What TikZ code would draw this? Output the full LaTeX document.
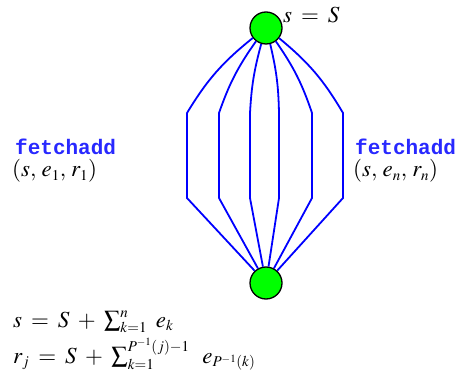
\documentclass[tikz,border=0pt]{standalone}
\usepackage{mathptmx}
\usepackage{fontspec}
\setmainfont{Liberation Serif}
\setmonofont{Liberation Mono}
\DeclareMathSizes{23}{23}{15}{11}
\definecolor{vgreen}{RGB}{0,255,0}
\definecolor{edgeblue}{RGB}{0,0,255}
\definecolor{ttblue}{RGB}{40,40,255}
\newcommand\myeq{\mskip3mu=\mskip3mu}
\newcommand\mypl{\mskip4mu+\mskip4mu}
\begin{document}
\begin{tikzpicture}[x=1pt,y=-1pt,
  vtx/.style={circle,draw=black,line width=1.3pt,fill=vgreen,minimum size=32pt,inner sep=0pt},
  edge/.style={draw=edgeblue,line width=1.8pt},
  mlbl/.style={inner sep=0pt,font=\fontsize{23}{26}\selectfont},
  tlbl/.style={inner sep=0pt,text=ttblue,font=\fontsize{21}{24}\selectfont\ttfamily\bfseries}]
\path[use as bounding box] (0,0) rectangle (457,379);
\node[vtx] (top) at (266,28) {};
\node[vtx] (bot) at (266,283) {};
\foreach \i/\x in {1/187,2/219,3/250,4/279,5/312,6/343} {
  \coordinate (a\i) at (\x,113);
  \coordinate (b\i) at (\x,198);
}
\draw[edge] (top) to[bend right=10] (a1) -- (b1) -- (bot);
\draw[edge] (top) to[bend right=8] (a2) -- (b2) -- (bot);
\draw[edge] (top) to[bend right=6] (a3) -- (b3) -- (bot);
\draw[edge] (top) to[bend left=6] (a4) -- (b4) -- (bot);
\draw[edge] (top) to[bend left=8] (a5) -- (b5) -- (bot);
\draw[edge] (top) to[bend left=10] (a6) -- (b6) -- (bot);
\node[mlbl,anchor=base west] (sS) at (283,23) {$s\myeq S$};
\node[tlbl,anchor=base west] (f1) at (15,155) {fetchadd};
\node[mlbl,anchor=base west] (p1) at (12,177) {$(s,\,e_1,\,r_1)$};
\node[tlbl,anchor=base west] (fn) at (355,155) {fetchadd};
\node[mlbl,anchor=base west] (pn) at (353,177) {$(s,\,e_n,\,r_n)$};
\node[mlbl,anchor=base west] (eq1) at (13,327) {$s\myeq S\mypl\sum_{k=1}^{n}\mskip5mu e_k$};
\node[mlbl,anchor=base west] (eq2) at (13,363) {$r_j\myeq S\mypl\sum_{k=1}^{P^{-1}(j)-1}\mskip8mu e_{P^{-1}(k)}$};
\end{tikzpicture}
\end{document}
